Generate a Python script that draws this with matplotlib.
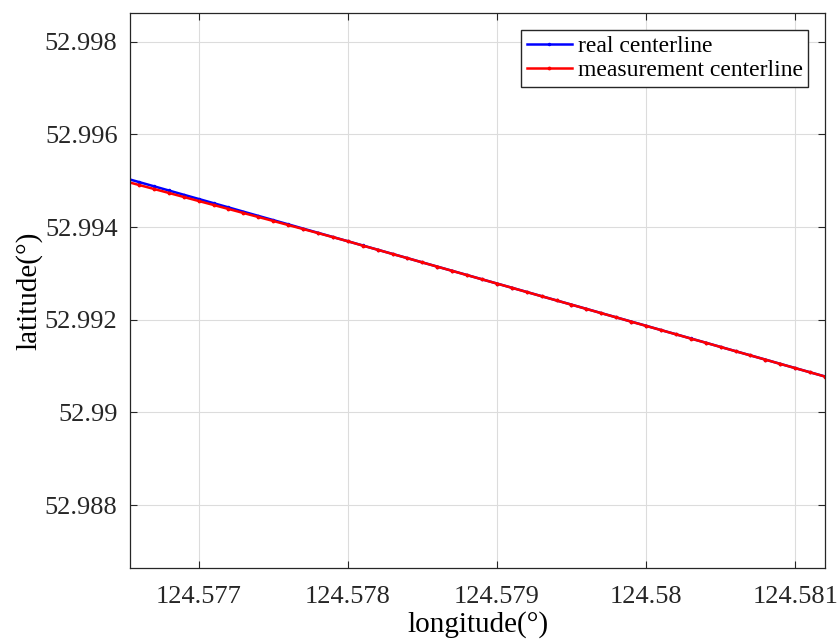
import matplotlib
matplotlib.use("Agg")
import matplotlib.pyplot as plt
from matplotlib.ticker import FuncFormatter, MultipleLocator

plt.rcParams['font.family'] = ['Liberation Serif', 'DejaVu Serif']

# longitude samples (deg) shared by both centerlines
lon = [124.5765, 124.5766, 124.5767, 124.5768, 124.5769, 124.5770, 124.5771,
       124.5772, 124.5773, 124.5774, 124.5775, 124.5776, 124.5777, 124.5778,
       124.5779, 124.5780, 124.5781, 124.5782, 124.5783, 124.5784, 124.5785,
       124.5786, 124.5787, 124.5788, 124.5789, 124.5790, 124.5791, 124.5792,
       124.5793, 124.5794, 124.5795, 124.5796, 124.5797, 124.5798, 124.5799,
       124.5800, 124.5801, 124.5802, 124.5803, 124.5804, 124.5805, 124.5806,
       124.5807, 124.5808, 124.5809, 124.5810, 124.5811, 124.5812]

lat_real = [52.995062, 52.994971, 52.994880, 52.994789, 52.994697, 52.994606,
            52.994515, 52.994424, 52.994332, 52.994241, 52.994150, 52.994059,
            52.993967, 52.993876, 52.993785, 52.993694, 52.993602, 52.993511,
            52.993420, 52.993329, 52.993237, 52.993146, 52.993055, 52.992964,
            52.992872, 52.992781, 52.992690, 52.992599, 52.992507, 52.992416,
            52.992325, 52.992234, 52.992142, 52.992051, 52.991960, 52.991869,
            52.991777, 52.991686, 52.991595, 52.991504, 52.991412, 52.991321,
            52.991230, 52.991139, 52.991047, 52.990956, 52.990865, 52.990774]

lat_meas = [52.994994, 52.994908, 52.994822, 52.994736, 52.994649, 52.994562,
            52.994476, 52.994390, 52.994303, 52.994217, 52.994131, 52.994044,
            52.993957, 52.993870, 52.993782, 52.993693, 52.993600, 52.993510,
            52.993418, 52.993328, 52.993236, 52.993145, 52.993054, 52.992962,
            52.992871, 52.992780, 52.992689, 52.992597, 52.992506, 52.992415,
            52.992324, 52.992232, 52.992141, 52.992050, 52.991958, 52.991867,
            52.991776, 52.991685, 52.991593, 52.991503, 52.991411, 52.991320,
            52.991229, 52.991138, 52.991046, 52.990955, 52.990864, 52.990773]

fig = plt.figure(figsize=(8.39, 6.43), dpi=100)
ax = fig.add_axes([0.155, 0.1166, 0.8283, 0.8632])

ax.plot(lon, lat_real, color='#0000ff', lw=1.8, marker='.', markersize=3,
        label='real centerline')
ax.plot(lon, lat_meas, color='#ff0000', lw=1.8, marker='.', markersize=3.5,
        label='measurement centerline')

ax.set_xlim(124.57654, 124.58120)
ax.set_ylim(52.98664, 52.99862)
ax.xaxis.set_major_locator(MultipleLocator(0.001))
ax.yaxis.set_major_locator(MultipleLocator(0.002))
fmt = FuncFormatter(lambda v, p: '%g' % round(v, 6))
ax.xaxis.set_major_formatter(fmt)
ax.yaxis.set_major_formatter(fmt)

ax.grid(True, color='#dcdcdc', lw=0.8)
ax.set_axisbelow(True)
ax.tick_params(direction='in', length=5, width=0.8, top=True, right=True,
               labelsize=19, colors='#262626')
ax.tick_params(axis='x', pad=13)
ax.tick_params(axis='y', pad=9)
for s in ax.spines.values():
    s.set_color('#262626')
    s.set_linewidth(0.9)

ax.set_xlabel('longitude(°)', fontsize=21, labelpad=2)
ax.set_ylabel('latitude(°)', fontsize=21, labelpad=2)

ax.legend(loc='upper right', fontsize=17, frameon=True, fancybox=False,
          edgecolor='#262626', framealpha=1, handlelength=1.9,
          handletextpad=0.25, borderpad=0.25, labelspacing=0.12,
          borderaxespad=0.7)

fig.savefig('out.png', dpi=100, facecolor='white')
